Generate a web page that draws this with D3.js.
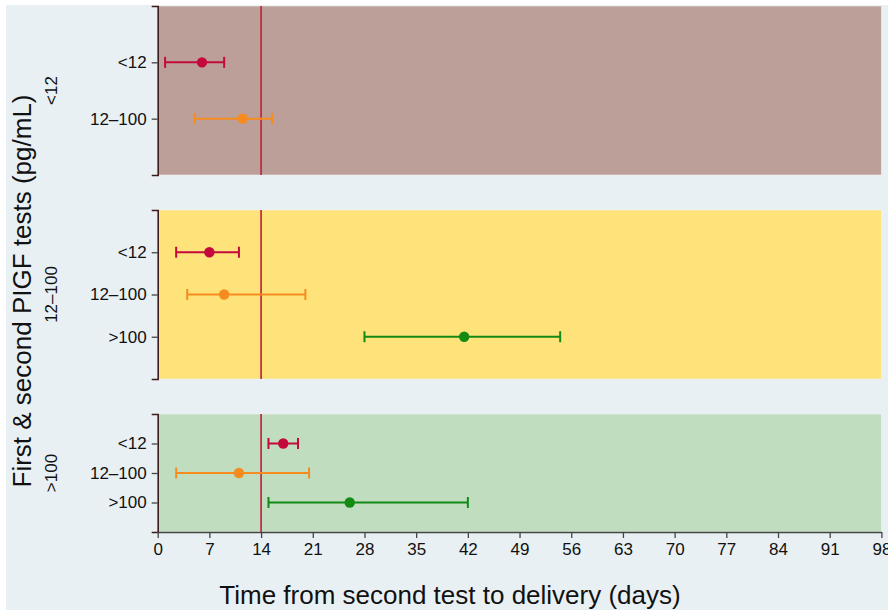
<!DOCTYPE html>
<html>
<head>
<meta charset="utf-8">
<script src="https://cdn.jsdelivr.net/npm/d3@7"></script>
<style>
  html, body { margin: 0; padding: 0; background: #ffffff; }
  svg { display: block; font-family: "Liberation Sans", Arial, sans-serif; }
</style>
</head>
<body>
<div id="chart"></div>
<script>
// first test group (panel) and second test group (row)
var panels = ["<12", "12\u2013100", ">100"];
var panelCats = [
    ["<12", "12\u2013100"],
    ["<12", "12\u2013100", ">100"],
    ["<12", "12\u2013100", ">100"]
];
var rowPanel = ["<12", "<12", "12\u2013100", "12\u2013100", "12\u2013100", ">100", ">100", ">100"];
var rowCat   = ["<12", "12\u2013100", "<12", "12\u2013100", ">100", "<12", "12\u2013100", ">100"];
var estimate = [6, 11.5, 7, 9, 41.5, 17, 11, 26];
var lower    = [1, 5, 2.5, 4, 28, 15, 2.5, 15];
var upper    = [9, 15.5, 11, 20, 54.5, 19, 20.5, 42];
var xTicks   = [0, 7, 14, 21, 28, 35, 42, 49, 56, 63, 70, 77, 84, 91, 98];
var threshold = 14;

var width = 888,
    height = 613;

var panelFill = {"<12": "#bd9f99", "12\u2013100": "#fee27a", ">100": "#c0ddc0"};
var catColor  = {"<12": "#c4093c", "12\u2013100": "#f68b1f", ">100": "#138a13"};
// panel boxes: [top, bottom]
var panelBox = [[6, 175], [210, 379], [414, 532]];
var tickFont = "17px";

var svg = d3.select("#chart")
    .append("svg")
    .attr("width", width)
    .attr("height", height);

svg.append("rect")
    .attr("x", 6).attr("y", 5)
    .attr("width", width - 6).attr("height", 605)
    .attr("fill", "#e9f0f3");

var x = d3.scaleLinear()
    .domain([0, 98])
    .range([157.7, 881.4]);

panels.forEach(function (p, i) {
    var top = panelBox[i][0],
        bottom = panelBox[i][1];

    var y = d3.scalePoint()
        .domain(panelCats[i])
        .range([top, bottom])
        .padding(1);

    var g = svg.append("g").attr("class", "panel");

    g.append("rect")
        .attr("x", x(0))
        .attr("y", top)
        .attr("width", x(98) - x(0))
        .attr("height", bottom - top)
        .attr("fill", panelFill[p])
        .attr("stroke", "#f2f2f0")
        .attr("stroke-width", 0.6);

    // reference line at 14 days
    g.append("line")
        .attr("x1", x(threshold)).attr("x2", x(threshold))
        .attr("y1", top).attr("y2", bottom)
        .attr("stroke", "#c0283c")
        .attr("stroke-width", 1.7);

    var yAxis = g.append("g")
        .attr("transform", "translate(" + x(0) + ",0)")
        .call(d3.axisLeft(y).tickSize(6).tickSizeOuter(6).tickPadding(5));
    yAxis.attr("font-size", null).attr("font-family", null);
    yAxis.select(".domain").attr("stroke", "#3f1c1c").attr("stroke-width", 1.6);
    yAxis.selectAll(".tick line").attr("stroke", "#444").attr("stroke-width", 1.3);
    yAxis.selectAll(".tick text")
        .attr("fill", "#111")
        .style("font-size", tickFont);

    // panel label
    g.append("text")
        .attr("transform", "translate(57," + ((top + bottom) / 2) + ") rotate(-90)")
        .attr("text-anchor", "middle")
        .attr("fill", "#111")
        .style("font-size", "17px")
        .text(p);

    var rows = d3.range(rowPanel.length).filter(function (k) { return rowPanel[k] === p; });

    var r = g.selectAll(".ci")
        .data(rows)
        .enter().append("g")
        .attr("class", "ci")
        .attr("stroke", function (k) { return catColor[rowCat[k]]; })
        .attr("fill", function (k) { return catColor[rowCat[k]]; });

    r.append("line")
        .attr("x1", function (k) { return x(lower[k]); })
        .attr("x2", function (k) { return x(upper[k]); })
        .attr("y1", function (k) { return y(rowCat[k]); })
        .attr("y2", function (k) { return y(rowCat[k]); })
        .attr("stroke-width", 2);
    r.append("line")
        .attr("x1", function (k) { return x(lower[k]); })
        .attr("x2", function (k) { return x(lower[k]); })
        .attr("y1", function (k) { return y(rowCat[k]) - 5.5; })
        .attr("y2", function (k) { return y(rowCat[k]) + 5.5; })
        .attr("stroke-width", 2);
    r.append("line")
        .attr("x1", function (k) { return x(upper[k]); })
        .attr("x2", function (k) { return x(upper[k]); })
        .attr("y1", function (k) { return y(rowCat[k]) - 5.5; })
        .attr("y2", function (k) { return y(rowCat[k]) + 5.5; })
        .attr("stroke-width", 2);
    r.append("circle")
        .attr("cx", function (k) { return x(estimate[k]); })
        .attr("cy", function (k) { return y(rowCat[k]); })
        .attr("r", 5.2)
        .attr("stroke", "none");
});

var xAxis = svg.append("g")
    .attr("transform", "translate(0," + panelBox[2][1] + ")")
    .call(d3.axisBottom(x).tickValues(xTicks).tickSize(6).tickSizeOuter(0).tickPadding(5));
xAxis.attr("font-size", null).attr("font-family", null);
xAxis.select(".domain").attr("stroke", "#444").attr("stroke-width", 1.3);
xAxis.selectAll(".tick line").attr("stroke", "#444").attr("stroke-width", 1.3);
xAxis.selectAll(".tick text")
    .attr("fill", "#111")
    .style("font-size", tickFont);

svg.append("text")
    .attr("x", 450)
    .attr("y", 604)
    .attr("text-anchor", "middle")
    .attr("fill", "#111")
    .style("font-size", "26px")
    .text("Time from second test to delivery (days)");

svg.append("text")
    .attr("transform", "translate(31,291) rotate(-90)")
    .attr("text-anchor", "middle")
    .attr("fill", "#111")
    .style("font-size", "26px")
    .text("First & second PIGF tests (pg/mL)");
</script>
</body>
</html>
